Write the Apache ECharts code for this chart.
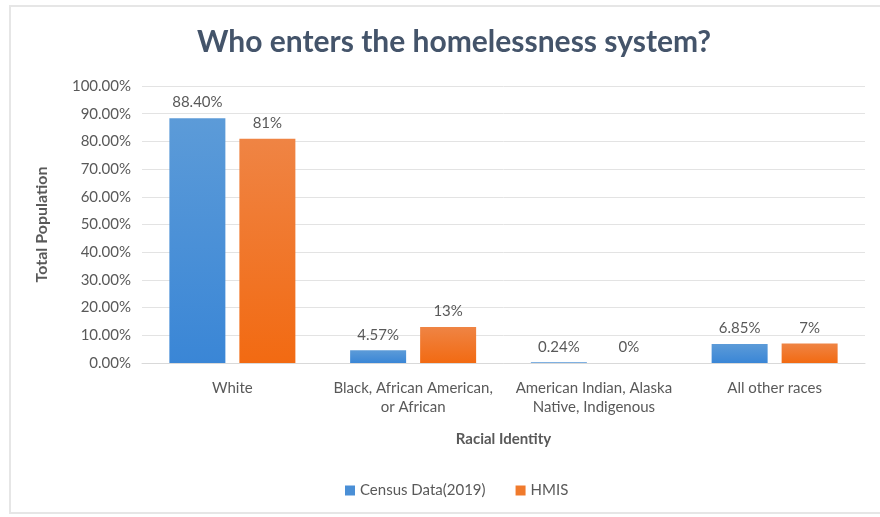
<!DOCTYPE html>
<html>
<head>
<meta charset="utf-8">
<script src="https://cdn.jsdelivr.net/npm/echarts@6/dist/echarts.min.js"></script>
<style>
html,body{margin:0;padding:0;background:#fff;}
#c{width:880px;height:517px;}
</style>
</head>
<body>
<div id="c"></div>
<script>
const categories = ['White', 'Black, African American,\nor African', 'American Indian, Alaska\nNative, Indigenous', 'All other races'];
const censusValues = [88.40, 4.57, 0.24, 6.85];
const hmisValues = [81, 13, 0, 7];
const censusLabels = ['88.40%', '4.57%', '0.24%', '6.85%'];
const hmisLabels = ['81%', '13%', '0%', '7%'];
const yTicks = [0, 10, 20, 30, 40, 50, 60, 70, 80, 90, 100];

const chart = echarts.init(document.getElementById('c'));
const font = 'Lato, "Open Sans", sans-serif';
function grad(top, bottom) {
  return new echarts.graphic.LinearGradient(0, 0, 0, 1, [
    {offset: 0, color: top}, {offset: 1, color: bottom}
  ]);
}
chart.setOption({
  animation: false,
  graphic: [{
    type: 'rect', left: 9, top: 5, z: -10,
    shape: {width: 880, height: 507},
    style: {fill: '#fff', stroke: '#e6e6e6', lineWidth: 2}
  }],
  title: {
    text: 'Who enters the homelessness system?',
    left: 192, top: 22,
    textStyle: {fontFamily: font, fontSize: 30, fontWeight: 'bold', color: '#44546a'}
  },
  legend: {
    bottom: 14, left: 340,
    itemWidth: 10, itemHeight: 10, itemGap: 30,
    icon: 'rect',
    textStyle: {fontFamily: font, fontSize: 15, color: '#595959'},
    data: [
      {name: 'Census Data(2019)', itemStyle: {color: '#4a8fd6'}},
      {name: 'HMIS', itemStyle: {color: '#f07a2c'}}
    ]
  },
  grid: {left: 142, right: 15, top: 86, bottom: 154},
  xAxis: {
    type: 'category',
    data: categories,
    name: 'Racial Identity',
    nameLocation: 'middle',
    nameGap: 69,
    nameTextStyle: {fontFamily: font, fontSize: 15, fontWeight: 'bold', color: '#595959'},
    axisLine: {lineStyle: {color: '#d9d9d9'}},
    axisTick: {show: false},
    axisLabel: {fontFamily: font, fontSize: 15, color: '#595959', margin: 16, lineHeight: 19, interval: 0}
  },
  yAxis: {
    type: 'value',
    min: 0, max: 100, interval: 10,
    name: 'Total Population',
    nameLocation: 'middle',
    nameGap: 92,
    nameTextStyle: {fontFamily: font, fontSize: 16, fontWeight: 'bold', color: '#595959'},
    axisLine: {show: false},
    axisTick: {show: false},
    splitLine: {lineStyle: {color: '#e3e3e3'}},
    axisLabel: {
      fontFamily: font, fontSize: 15, color: '#595959', margin: 11,
      formatter: v => yTicks.includes(v) ? v.toFixed(2) + '%' : ''
    }
  },
  series: [
    {
      name: 'Census Data(2019)', type: 'bar', data: censusValues,
      barWidth: 56, barGap: '25%',
      itemStyle: {color: grad('#5c9bd8', '#3a86d6')},
      label: {show: true, position: 'top', distance: 8, fontFamily: font, fontSize: 15, color: '#595959',
        formatter: p => censusLabels[p.dataIndex]}
    },
    {
      name: 'HMIS', type: 'bar', data: hmisValues,
      barWidth: 56,
      itemStyle: {color: grad('#ef8444', '#f26a12')},
      label: {show: true, position: 'top', distance: 8, fontFamily: font, fontSize: 15, color: '#595959',
        formatter: p => hmisLabels[p.dataIndex]}
    }
  ]
});
</script>
</body>
</html>
